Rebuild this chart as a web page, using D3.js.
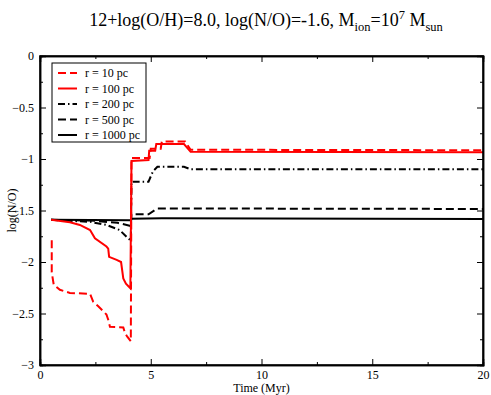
<!DOCTYPE html>
<html>
<head>
<meta charset="utf-8">
<script src="https://cdn.jsdelivr.net/npm/d3@7/dist/d3.min.js"></script>
<style>
  body { margin: 0; background: #fff; }
  svg, svg text { font-family: "Liberation Serif", "DejaVu Serif", serif !important; }
</style>
</head>
<body>
<div class="svg-content"></div>
<script>
// --- data --------------------------------------------------------------------
var xTicks = [0, 5, 10, 15, 20];
var yTicks = [0, -0.5, -1, -1.5, -2, -2.5, -3];

var r10 = [[0.53,-1.79],[0.53,-2.1],[0.62,-2.22],[0.9,-2.27],[1.35,-2.30],[2.26,-2.31],[2.4,-2.385],
  [2.63,-2.43],[3.0,-2.51],[3.08,-2.56],[3.16,-2.63],[3.76,-2.635],[3.84,-2.69],[3.94,-2.725],[4.1,-2.77],
  [4.13,-0.99],[4.95,-0.99],[5.0,-0.90],[5.45,-0.90],[5.5,-0.83],[6.55,-0.83],[6.8,-0.91],[20,-0.915]];
var r100 = [[0.5,-1.59],[1.35,-1.615],[1.8,-1.64],[2.26,-1.69],[2.48,-1.77],[3.0,-1.85],[3.08,-1.87],
  [3.12,-1.95],[3.46,-1.98],[3.66,-2.0],[3.76,-2.16],[3.88,-2.21],[4.08,-2.255],
  [4.13,-1.02],[4.9,-1.01],[4.93,-0.92],[5.2,-0.92],[5.25,-0.855],[6.5,-0.855],[6.8,-0.93],[20,-0.935]];
var r200 = [[0.5,-1.59],[2.26,-1.61],[3.0,-1.64],[3.6,-1.69],[3.97,-1.77],[4.1,-1.79],
  [4.13,-1.22],[4.9,-1.22],[5.1,-1.12],[5.3,-1.075],[6.5,-1.075],[6.8,-1.10],[20,-1.10]];
var r500 = [[0.5,-1.59],[2.5,-1.6],[3.5,-1.62],[4.1,-1.65],
  [4.13,-1.537],[4.9,-1.537],[5.3,-1.48],[20,-1.485]];
var r1000 = [[0.5,-1.59],[4.1,-1.595],[4.13,-1.58],[5.5,-1.575],[20,-1.583]];

var seriesNames = ["r = 10 pc", "r = 100 pc", "r = 200 pc", "r = 500 pc", "r = 1000 pc"];
var seriesData = [r10, r100, r200, r500, r1000];
var seriesColor = ["#ff0000", "#ff0000", "#000000", "#000000", "#000000"];
var seriesDash = ["8,4", null, "7,3,1.5,3", "8,4", null];

// --- chart --------------------------------------------------------------------
var width = 491, height = 395;
var margin = {left: 40, right: 8, top: 56, bottom: 30};
var serif = "Liberation Serif, DejaVu Serif, serif";

var svg = d3.select(".svg-content").append("svg")
    .attr("width", width)
    .attr("height", height)
    .attr("font-family", serif);

var x = d3.scaleLinear().domain([0, 20]).range([margin.left, width - margin.right]);
var y = d3.scaleLinear().domain([-3, 0]).range([height - margin.bottom, margin.top]);

// title with sub/superscripts
var title = svg.append("text")
    .attr("x", 266).attr("y", 26)
    .attr("text-anchor", "middle")
    .attr("font-size", 18);
title.append("tspan").text("12+log(O/H)=8.0, log(N/O)=-1.6, M");
title.append("tspan").attr("dy", 5).attr("font-size", 12.5).text("ion");
title.append("tspan").attr("dy", -5).text("=10");
title.append("tspan").attr("dy", -7).attr("font-size", 12.5).text("7");
title.append("tspan").attr("dy", 7).text(" M");
title.append("tspan").attr("dy", 5).attr("font-size", 12.5).text("sun");

var plot = svg.append("g");
plot.append("clipPath").attr("id", "clip").append("rect")
    .attr("x", x(0)).attr("y", y(0)).attr("width", x(20) - x(0)).attr("height", y(-3) - y(0));

var line = d3.line().x(function(d) { return x(d[0]); }).y(function(d) { return y(d[1]); });

// draw the back ones first so red sits on top
[4, 3, 2, 1, 0].forEach(function(i) {
    plot.append("path")
        .datum(seriesData[i])
        .attr("clip-path", "url(#clip)")
        .attr("d", line)
        .attr("fill", "none")
        .attr("stroke", seriesColor[i])
        .attr("stroke-width", 2)
        .attr("stroke-dasharray", seriesDash[i]);
});

// axes, ticks pointing inwards on all four sides
var xMinor = d3.range(0, 20.01, 2.5).filter(function(v) { return v % 5 !== 0; });
var yMinor = d3.range(-3, 0.001, 0.25).filter(function(v) { return Math.abs(v * 2 - Math.round(v * 2)) > 0.01; });

svg.append("g").attr("transform", "translate(0," + y(-3) + ")")
    .call(d3.axisBottom(x).tickValues(xTicks).tickSize(-6).tickPadding(5).tickFormat(d3.format("d")));
svg.append("g").attr("transform", "translate(0," + y(-3) + ")")
    .call(d3.axisBottom(x).tickValues(xMinor).tickSize(-3).tickFormat(""));
svg.append("g").attr("transform", "translate(0," + y(0) + ")")
    .call(d3.axisTop(x).tickValues(xTicks).tickSize(-6).tickFormat(""));
svg.append("g").attr("transform", "translate(0," + y(0) + ")")
    .call(d3.axisTop(x).tickValues(xMinor).tickSize(-3).tickFormat(""));
svg.append("g").attr("transform", "translate(" + x(0) + ",0)")
    .call(d3.axisLeft(y).tickValues(yTicks).tickSize(-6).tickPadding(6).tickFormat(function(d) { return d3.format("")(d); }));
svg.append("g").attr("transform", "translate(" + x(0) + ",0)")
    .call(d3.axisLeft(y).tickValues(yMinor).tickSize(-3).tickFormat(""));
svg.append("g").attr("transform", "translate(" + x(20) + ",0)")
    .call(d3.axisRight(y).tickValues(yTicks).tickSize(-6).tickFormat(""));
svg.append("g").attr("transform", "translate(" + x(20) + ",0)")
    .call(d3.axisRight(y).tickValues(yMinor).tickSize(-3).tickFormat(""));

svg.selectAll("g").attr("font-family", serif);
svg.selectAll(".domain").attr("stroke", "#000").attr("stroke-width", 1.5);
svg.selectAll(".tick line").attr("stroke", "#000").attr("stroke-width", 1);
svg.selectAll(".tick text")
    .attr("font-family", serif)
    .attr("font-size", 12)
    .attr("fill", "#000");

svg.append("rect")
    .attr("x", x(0)).attr("y", y(0))
    .attr("width", x(20) - x(0)).attr("height", y(-3) - y(0))
    .attr("fill", "none").attr("stroke", "#000").attr("stroke-width", 1.5);

// axis titles
svg.append("text")
    .attr("x", (x(0) + x(20)) / 2).attr("y", 392)
    .attr("text-anchor", "middle").attr("font-size", 12)
    .text("Time (Myr)");
svg.append("text")
    .attr("transform", "translate(16," + y(-1.5) + ") rotate(-90)")
    .attr("text-anchor", "middle").attr("font-size", 12)
    .text("log(N/O)");

// legend
var legend = svg.append("g").attr("transform", "translate(52,63)");
legend.append("rect")
    .attr("width", 94).attr("height", 79)
    .attr("fill", "#fff").attr("stroke", "#000").attr("stroke-width", 1);
seriesNames.forEach(function(name, i) {
    var ly = 10 + i * 15.5;
    legend.append("line")
        .attr("x1", 6).attr("x2", 25).attr("y1", ly).attr("y2", ly)
        .attr("stroke", seriesColor[i]).attr("stroke-width", 2)
        .attr("stroke-dasharray", seriesDash[i]);
    legend.append("text")
        .attr("x", 33).attr("y", ly + 4)
        .attr("font-size", 12)
        .text(name);
});
</script>
</body>
</html>
